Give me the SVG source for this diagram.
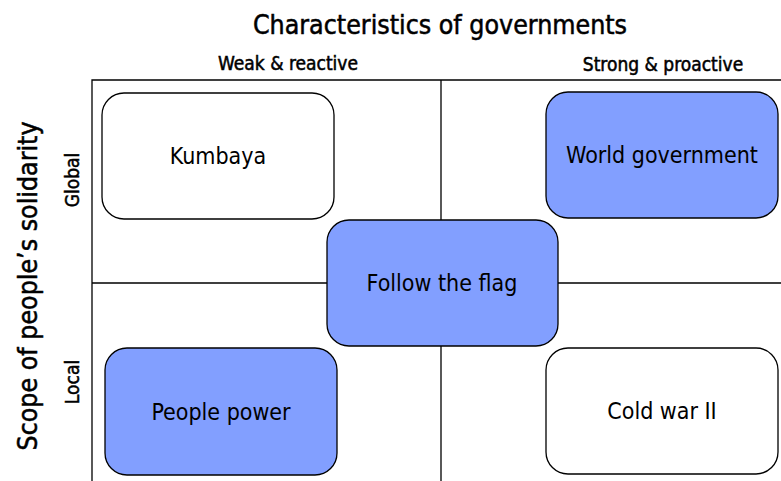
<svg xmlns="http://www.w3.org/2000/svg" width="781" height="481" viewBox="0 0 781 481">
<style>
text{font-family:"DejaVu Sans Condensed","Noto Sans",sans-serif;fill:#000}
.t{font-size:26.5px;text-anchor:middle;stroke:#000;stroke-width:0.5}
.h{font-size:19px;text-anchor:middle;stroke:#000;stroke-width:0.5}
.n{font-size:23px;text-anchor:middle;dominant-baseline:central}
.box{stroke:#000;stroke-width:1.3}
.w{fill:#fff}
.b{fill:#829FFF}
.grid{stroke:#000;stroke-width:1.3;fill:none}
</style>
<rect width="781" height="481" fill="#fff"/>
<text class="t" x="440" y="34">Characteristics of governments</text>
<text class="h" x="288" y="70">Weak &amp; reactive</text>
<text class="h" x="663" y="71">Strong &amp; proactive</text>
<text class="t" font-size="27.5" transform="translate(37,286) rotate(-90)">Scope of people’s solidarity</text>
<text class="h" transform="translate(79,180) rotate(-90)">Global</text>
<text class="h" transform="translate(79,382) rotate(-90)">Local</text>
<g id="connectors">
<path class="grid" d="M92,481V80H781M441,80V481M92,283H781"/>
</g>
<g id="kumbaya"><rect class="box w" x="102" y="93" width="232" height="126" rx="22"/><text class="n" x="218" y="156">Kumbaya</text></g>
<g id="world-government"><rect class="box b" x="546" y="92" width="232" height="126" rx="22"/><text class="n" x="662" y="155">World government</text></g>
<g id="follow-the-flag"><rect class="box b" x="327" y="220" width="231" height="126" rx="22"/><text class="n" x="442" y="283">Follow the flag</text></g>
<g id="people-power"><rect class="box b" x="105" y="348" width="232" height="127" rx="22"/><text class="n" x="221" y="412">People power</text></g>
<g id="cold-war-ii"><rect class="box w" x="546" y="348" width="232" height="126" rx="22"/><text class="n" x="662" y="411">Cold war II</text></g>
</svg>
